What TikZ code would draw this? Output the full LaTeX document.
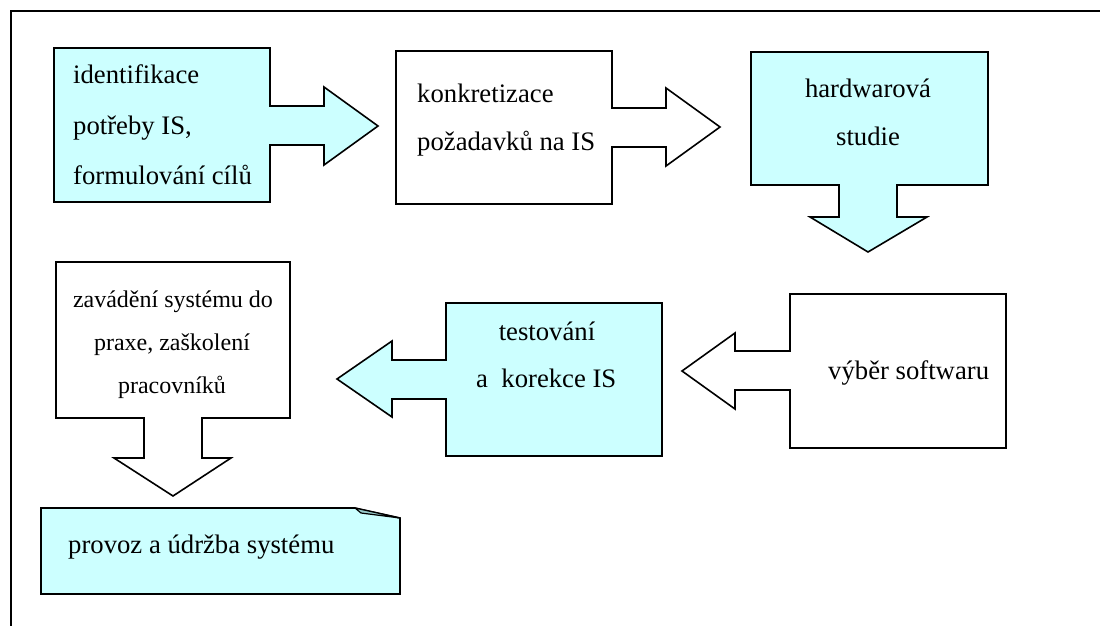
\documentclass[tikz,border=0pt]{standalone}
\usepackage{fontspec}
\setmainfont{Liberation Serif}
\definecolor{lightcyan}{HTML}{CCFFFF}
\definecolor{foldcyan}{HTML}{99CCCC}
\tikzset{
  blockarrow/.style={draw=black, line width=1.6pt, line join=miter},
  cyanblock/.style={blockarrow, fill=lightcyan},
  whiteblock/.style={blockarrow, fill=white},
  label/.style={inner sep=0pt, font=\fontsize{26.7}{30}\selectfont},
  smalllabel/.style={inner sep=0pt, font=\fontsize{24}{28}\selectfont},
}
\begin{document}
\begin{tikzpicture}[x=1pt, y=-1pt]
\useasboundingbox (0,0) rectangle (1100,626);
\fill[white] (0,0) rectangle (1100,626);

% frame: top and left rules
\draw[line width=1.8pt] (1100,11) -- (11,11) -- (11,626);

% step 1: box with arrow to the right
\draw[cyanblock] (54,48) -- (270,48) -- (270,106) -- (324,106) -- (324,87)
  -- (378,126) -- (324,165) -- (324,145) -- (270,145) -- (270,202)
  -- (54,202) -- cycle;
\node[label, anchor=base west] (s1a) at (73,84) {identifikace};
\node[label, anchor=base west] (s1b) at (73,134) {potřeby IS,};
\node[label, anchor=base west] (s1c) at (73,184) {formulování cílů};

% step 2: box with arrow to the right
\draw[whiteblock] (396,51) -- (612,51) -- (612,108) -- (666,108) -- (666,88)
  -- (720,127) -- (666,166) -- (666,147) -- (612,147) -- (612,204)
  -- (396,204) -- cycle;
\node[label, anchor=base west] (s2a) at (417,102) {konkretizace};
\node[label, anchor=base west] (s2b) at (417,150) {požadavků na IS};

% step 3: box with arrow downwards
\draw[cyanblock] (751,52) -- (988,52) -- (988,185) -- (897,185) -- (897,217)
  -- (927,217) -- (868,252) -- (810,217) -- (839,217) -- (839,185)
  -- (751,185) -- cycle;
\node[label, anchor=base] (s3a) at (868,97) {hardwarová};
\node[label, anchor=base] (s3b) at (868,145) {studie};

% step 4: box with arrow to the left
\draw[whiteblock] (790,294) -- (1006,294) -- (1006,448) -- (790,448)
  -- (790,390) -- (735,390) -- (735,409) -- (682,371) -- (735,333)
  -- (735,351) -- (790,351) -- cycle;
\node[label, anchor=base west] (s4) at (828,379) {výběr softwaru};

% step 5: box with arrow to the left
\draw[cyanblock] (446,303) -- (662,303) -- (662,456) -- (446,456)
  -- (446,399) -- (392,399) -- (392,417) -- (337,379) -- (392,341)
  -- (392,360) -- (446,360) -- cycle;
\node[label, anchor=base] (s5a) at (547,340) {testování};
\node[label, anchor=base west] (s5b) at (476,387) {a\hspace{0.5em}korekce IS};

% step 6: box with arrow downwards
\draw[whiteblock] (56,262) -- (290,262) -- (290,418) -- (202,418) -- (202,458)
  -- (231,458) -- (173,496) -- (114,458) -- (144,458) -- (144,418)
  -- (56,418) -- cycle;
\node[smalllabel, anchor=base] (s6a) at (173,307) {zavádění systému do};
\node[smalllabel, anchor=base] (s6b) at (172,350) {praxe, zaškolení};
\node[smalllabel, anchor=base] (s6c) at (172,393) {pracovníků};

% step 7: note with folded corner
\draw[cyanblock] (41,508) -- (355,508) -- (400,518) -- (400,594) -- (41,594) -- cycle;
\draw[line width=1.2pt, fill=foldcyan, line join=round]
  (355,508) .. controls (358,510) .. (361,513) -- (400,518) -- cycle;
\node[label, anchor=base west] (s7) at (68,553) {provoz a údržba systému};
\end{tikzpicture}
\end{document}
